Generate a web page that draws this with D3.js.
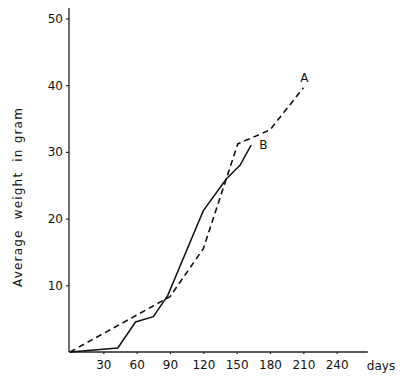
<!DOCTYPE html>
<html><head><meta charset="utf-8">
<script src="https://cdn.jsdelivr.net/npm/d3@7/dist/d3.min.js"></script>
<style>body{margin:0;background:#fff}svg{display:block}text{font-family:"DejaVu Sans",sans-serif;fill:#111}</style>
</head><body>
<script>
const xTicks = [30, 60, 90, 120, 150, 180, 210, 240];
const yTicks = [10, 20, 30, 40, 50];
const seriesA_days = [0, 90, 120, 151, 180, 210];
const seriesA_vals = [0, 8.3, 15.5, 31.2, 33.3, 39.6];
const seriesB_days = [0, 43, 59, 75, 88, 120, 141, 153, 163];
const seriesB_vals = [0, 0.6, 4.5, 5.3, 8.5, 21.2, 26, 28, 31];
const labels = {A: "A", B: "B", y: "Average  weight  in gram", x: "days"};

const W = 400, H = 383;
const svg = d3.select("body").append("svg").attr("width", W).attr("height", H);
const x = d3.scaleLinear().domain([0, 270]).range([70, 370]);
const y = d3.scaleLinear().domain([0, 50]).range([352, 18.5]);

// axes
const gx = svg.append("g").attr("transform", `translate(0,${y(0)})`)
  .call(d3.axisBottom(x).tickValues(xTicks).tickSize(2).tickPadding(6).tickFormat(d3.format("d")));
gx.select(".domain").attr("d", `M${x(0)-1},0H${x(268)}`);
const gy = svg.append("g").attr("transform", `translate(${x(0)-1},0)`)
  .call(d3.axisLeft(y).tickValues(yTicks).tickSize(3).tickPadding(3).tickFormat(d3.format("d")));
gy.select(".domain").attr("d", `M0,${y(0)}V8`);
svg.selectAll(".domain").attr("stroke", "#222").attr("stroke-width", 1.3);
svg.selectAll(".tick line").attr("stroke", "#222").attr("stroke-width", 1.2);
svg.selectAll(".tick text").style("font-size", "12px").attr("fill", "#111");

const line = d3.line().x(d => x(d[0])).y(d => y(d[1]));
const A = seriesA_days.map((d, i) => [d, seriesA_vals[i]]);
const B = seriesB_days.map((d, i) => [d, seriesB_vals[i]]);
svg.append("path").attr("d", line(A)).attr("fill", "none").attr("stroke", "#111")
  .attr("stroke-width", 1.6).attr("stroke-dasharray", "6,4");
svg.append("path").attr("d", line(B)).attr("fill", "none").attr("stroke", "#111")
  .attr("stroke-width", 1.5);

svg.append("text").attr("x", x(211)).attr("y", y(40.5)).attr("text-anchor", "middle")
  .style("font-size", "12px").text(labels.A);
svg.append("text").attr("x", x(174)).attr("y", y(30.5)).attr("text-anchor", "middle")
  .style("font-size", "12px").text(labels.B);
svg.append("text").attr("x", 381).attr("y", 370).attr("text-anchor", "middle")
  .style("font-size", "12px").text(labels.x);
svg.append("text").attr("transform", "translate(22,197) rotate(-90)").attr("text-anchor", "middle")
  .style("font-size", "12px").style("letter-spacing", "1.2px").style("white-space", "pre")
  .text(labels.y);
</script>
</body></html>
